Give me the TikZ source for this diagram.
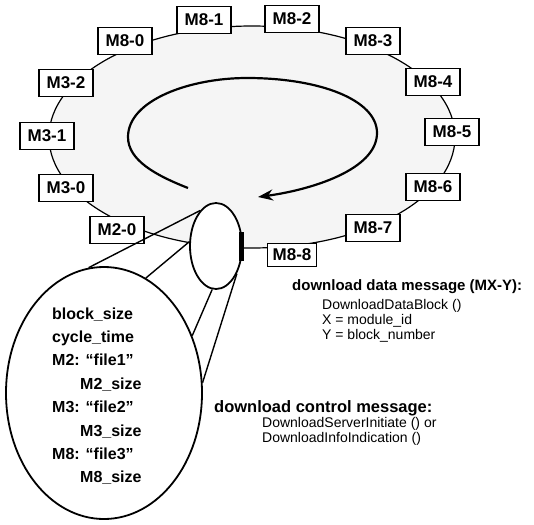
\documentclass[tikz,border=0pt]{standalone}
\usepackage{fontspec}
\setmainfont{Liberation Sans}
\usetikzlibrary{shapes.geometric,arrows.meta}
\begin{document}
\begin{tikzpicture}[x=1pt,y=-1pt,
  mbox/.style={draw,line width=1.5pt,fill=white,minimum width=54pt,minimum height=27pt,inner sep=0pt,font=\fontsize{17}{17}\selectfont\bfseries},
  ringline/.style={draw,line width=1.2pt},
  magline/.style={line width=1.4pt},
  etext/.style={anchor=base west,inner sep=0pt,font=\fontsize{16}{16}\selectfont\bfseries},
  htext/.style={anchor=base west,inner sep=0pt,font=\fontsize{15}{15}\selectfont\bfseries},
  stext/.style={anchor=base west,inner sep=0pt,font=\fontsize{14}{14}\selectfont}]
\useasboundingbox (0,0) rectangle (534,524);
% ring
\node[ellipse,ringline,fill=gray!8,minimum width=406pt,minimum height=222pt,inner sep=0pt] (ring) at (252,137) {};
% spiral arrow
\coordinate (s0) at (188,188);
\coordinate (s1) at (128,137);
\coordinate (s2) at (247,78);
\coordinate (s3) at (377,133);
\coordinate (s4) at (258,197);
\draw[line width=2.2pt,-{Stealth[length=15pt,width=11pt]}] (s0) .. controls (155,175) and (128,160) .. (s1)
  .. controls (128,100) and (190,78) .. (s2)
  .. controls (320,78) and (377,100) .. (s3)
  .. controls (377,170) and (310,190) .. (s4);
% boxes
\node[mbox] (m81) at (204,20) {M8-1};
\node[mbox] (m82) at (292,19) {M8-2};
\node[mbox] (m80) at (125,41) {M8-0};
\node[mbox] (m83) at (373,41) {M8-3};
\node[mbox] (m32) at (66,83) {M3-2};
\node[mbox] (m84) at (433,82) {M8-4};
\node[mbox] (m31) at (47,136) {M3-1};
\node[mbox] (m85) at (452,132) {M8-5};
\node[mbox] (m30) at (66,188) {M3-0};
\node[mbox] (m86) at (433,187) {M8-6};
\node[mbox] (m20) at (117,230) {M2-0};
\node[mbox] (m87) at (373,228) {M8-7};
\node[mbox,minimum width=49pt,minimum height=23pt] (m88) at (292,255) {M8-8};
% lens and magnified view
\node[ellipse,draw,line width=1.8pt,fill=white,minimum width=52pt,minimum height=86pt,inner sep=0pt] (lens) at (216,246) {};
\node[ellipse,draw,line width=1.8pt,minimum width=196pt,minimum height=252pt,inner sep=0pt] (mag) at (104,393) {};
\fill (239,232) rectangle (243.5,261);
\draw[magline] (lens.114) -- (mag.97);
\draw[magline] (lens.171) -- (mag.70);
\draw[magline] (lens.265) -- (mag.33);
\draw[magline] (lens.307) -- (mag.6);
% magnified text
\node[etext] (t1) at (52,319) {block\_size};
\node[etext] (t2) at (52,342.4) {cycle\_time};
\node[etext] (t3) at (52,365.8) {M2: “file1”};
\node[etext] (t4) at (80,389.2) {M2\_size};
\node[etext] (t5) at (52,412.6) {M3: “file2”};
\node[etext] (t6) at (80,436) {M3\_size};
\node[etext] (t7) at (52,459.4) {M8: “file3”};
\node[etext] (t8) at (80,482.8) {M8\_size};
% messages
\node[htext] (d1) at (292,290) {download data message (MX-Y):};
\node[stext] (d2) at (322,309) {DownloadDataBlock ()};
\node[stext] (d3) at (322,324) {X = module\_id};
\node[stext] (d4) at (322,339) {Y = block\_number};
\node[htext,font=\fontsize{16.5}{16.5}\selectfont\bfseries] (c1) at (214,412) {download control message:};
\node[stext] (c2) at (262,427) {DownloadServerInitiate () or};
\node[stext] (c3) at (262,442) {DownloadInfoIndication ()};
\end{tikzpicture}
\end{document}
